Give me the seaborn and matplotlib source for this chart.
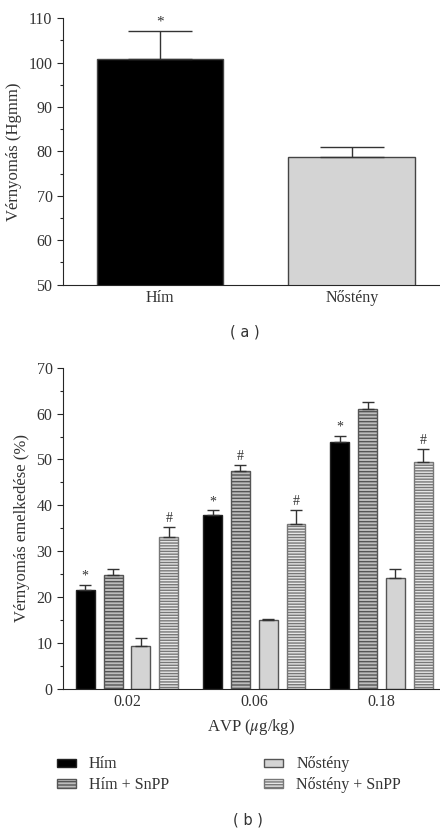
import numpy as np
import pandas as pd
import matplotlib
matplotlib.use("Agg")
import matplotlib.pyplot as plt
import matplotlib.patches as mpatches
import seaborn as sns
from matplotlib.ticker import MultipleLocator

# (a) blood pressure by sex
sexes = ["Hím", "Nőstény"]
bp_mean = [100.9, 78.7]
bp_err = [6.3, 2.2]

# (b) rise in blood pressure after AVP
doses = ["0.02", "0.06", "0.18"]
groups = ["Hím", "Hím + SnPP", "Nőstény", "Nőstény + SnPP"]
rise_him = [21.6, 37.9, 53.9]
rise_him_snpp = [24.9, 47.4, 60.9]
rise_nostveny = [9.4, 15.0, 24.1]
rise_nostveny_snpp = [33.0, 35.9, 49.5]
err_him = [1.1, 1.0, 1.3]
err_him_snpp = [1.2, 1.3, 1.6]
err_nostveny = [1.6, 0.2, 2.0]
err_nostveny_snpp = [2.3, 3.1, 2.7]
marks_him = ["*", "*", "*"]
marks_him_snpp = ["", "#", ""]
marks_nostveny = ["", "", ""]
marks_nostveny_snpp = ["#", "#", "#"]

sns.set_style("ticks")
plt.rcParams["font.family"] = ["Liberation Serif", "DejaVu Serif"]
plt.rcParams["mathtext.fontset"] = "stix"
txt_col = "#333333"

fig = plt.figure(figsize=(4.4, 8.3), dpi=100)
ax1 = fig.add_axes([0.143, 0.657, 0.857, 0.321])
ax2 = fig.add_axes([0.143, 0.170, 0.857, 0.387])

# ---- panel (a)
df_a = pd.DataFrame({"sex": sexes, "bp": bp_mean})
sns.barplot(data=df_a, x="sex", y="bp", hue="sex", palette=["black", "#d4d4d4"],
            width=0.66, errorbar=None, legend=False, ax=ax1)
for p in ax1.patches:
    p.set_edgecolor("#444444")
    p.set_linewidth(1.0)
cx = [p.get_x() + p.get_width() / 2 for p in ax1.patches]
ax1.errorbar(cx, bp_mean, yerr=[np.zeros(2), bp_err], fmt="none",
             ecolor="#333333", elinewidth=1.0, capsize=23, capthick=1.0)
ax1.text(cx[0], bp_mean[0] + bp_err[0] + 0.4, "*", ha="center", va="bottom",
         fontsize=11, color=txt_col)
ax1.set_ylim(50, 110)
ax1.set_xlim(-0.505, 1.46)
ax1.yaxis.set_major_locator(MultipleLocator(10))
ax1.yaxis.set_minor_locator(MultipleLocator(5))
ax1.set_ylabel("Vérnyomás (Hgmm)", fontsize=12, color=txt_col, labelpad=5)
ax1.set_xlabel("")
ax1.tick_params(labelsize=11.5, width=0.8, length=4, labelcolor=txt_col)
ax1.tick_params(which="minor", width=0.8, length=2.5)
ax1.tick_params(axis="x", length=0, pad=4)
sns.despine(ax=ax1)
fig.text(0.557, 0.600, "( a )", ha="center", va="center", fontsize=10.5,
         family="DejaVu Sans", color=txt_col)

# ---- panel (b)
values = [rise_him, rise_him_snpp, rise_nostveny, rise_nostveny_snpp]
errs = [err_him, err_him_snpp, err_nostveny, err_nostveny_snpp]
marks = [marks_him, marks_him_snpp, marks_nostveny, marks_nostveny_snpp]
df_b = pd.DataFrame({
    "dose": np.tile(doses, 4),
    "group": np.repeat(groups, 3),
    "rise": np.concatenate(values),
})
faces = ["black", "#bdbdbd", "#d4d4d4", "#e6e6e6"]
edges = ["#222222", "#555555", "#555555", "#777777"]
hatches = [None, "-----", None, "------"]
hatch_cols = [None, "#6a6a6a", None, "#c4c4c4"]
sns.barplot(data=df_b, x="dose", y="rise", hue="group", hue_order=groups,
            palette=faces, width=0.875, gap=0.32, errorbar=None, legend=False, ax=ax2)
bar_conts = list(ax2.containers)
for i, cont in enumerate(bar_conts):
    xs = []
    for p in cont.patches:
        p.set_edgecolor(edges[i])
        p.set_linewidth(1.0)
        if hatches[i]:
            p.set_hatch(hatches[i])
            if hasattr(p, "set_hatchcolor"):
                p.set_hatchcolor(hatch_cols[i])
        xs.append(p.get_x() + p.get_width() / 2)
    ax2.errorbar(xs, values[i], yerr=[np.zeros(3), errs[i]], fmt="none",
                 ecolor="#333333", elinewidth=1.0, capsize=4, capthick=1.0)
    for x, v, e, m in zip(xs, values[i], errs[i], marks[i]):
        if m:
            ax2.text(x, v + e + 0.5, m, ha="center", va="bottom", fontsize=10,
                     color=txt_col)
ax2.set_ylim(0, 70)
ax2.set_xlim(-0.504, 2.46)
ax2.yaxis.set_major_locator(MultipleLocator(10))
ax2.yaxis.set_minor_locator(MultipleLocator(5))
ax2.set_ylabel("Vérnyomás emelkedése (%)", fontsize=12, color=txt_col, labelpad=5)
ax2.set_xlabel("AVP ($\\mu$g/kg)", fontsize=12, labelpad=5, color=txt_col)
ax2.tick_params(labelsize=11.5, width=0.8, length=4, labelcolor=txt_col)
ax2.tick_params(which="minor", width=0.8, length=2.5)
ax2.tick_params(axis="x", length=0, pad=4)
sns.despine(ax=ax2)

handles = []
for i in range(4):
    h = mpatches.Patch(facecolor=faces[i], edgecolor=edges[i], linewidth=1.0,
                       hatch=hatches[i])
    handles.append(h)
leg = fig.legend(handles, groups, ncol=2, loc="upper left", bbox_to_anchor=(0.097, 0.106),
                 frameon=False, fontsize=11.5, handlelength=1.2, handleheight=0.4,
                 columnspacing=5.95, labelspacing=0.3, handletextpad=0.8)
for t in leg.get_texts():
    t.set_color(txt_col)
fig.text(0.564, 0.012, "( b )", ha="center", va="center", fontsize=10.5,
         family="DejaVu Sans", color=txt_col)

fig.savefig("out.png", dpi=100)
